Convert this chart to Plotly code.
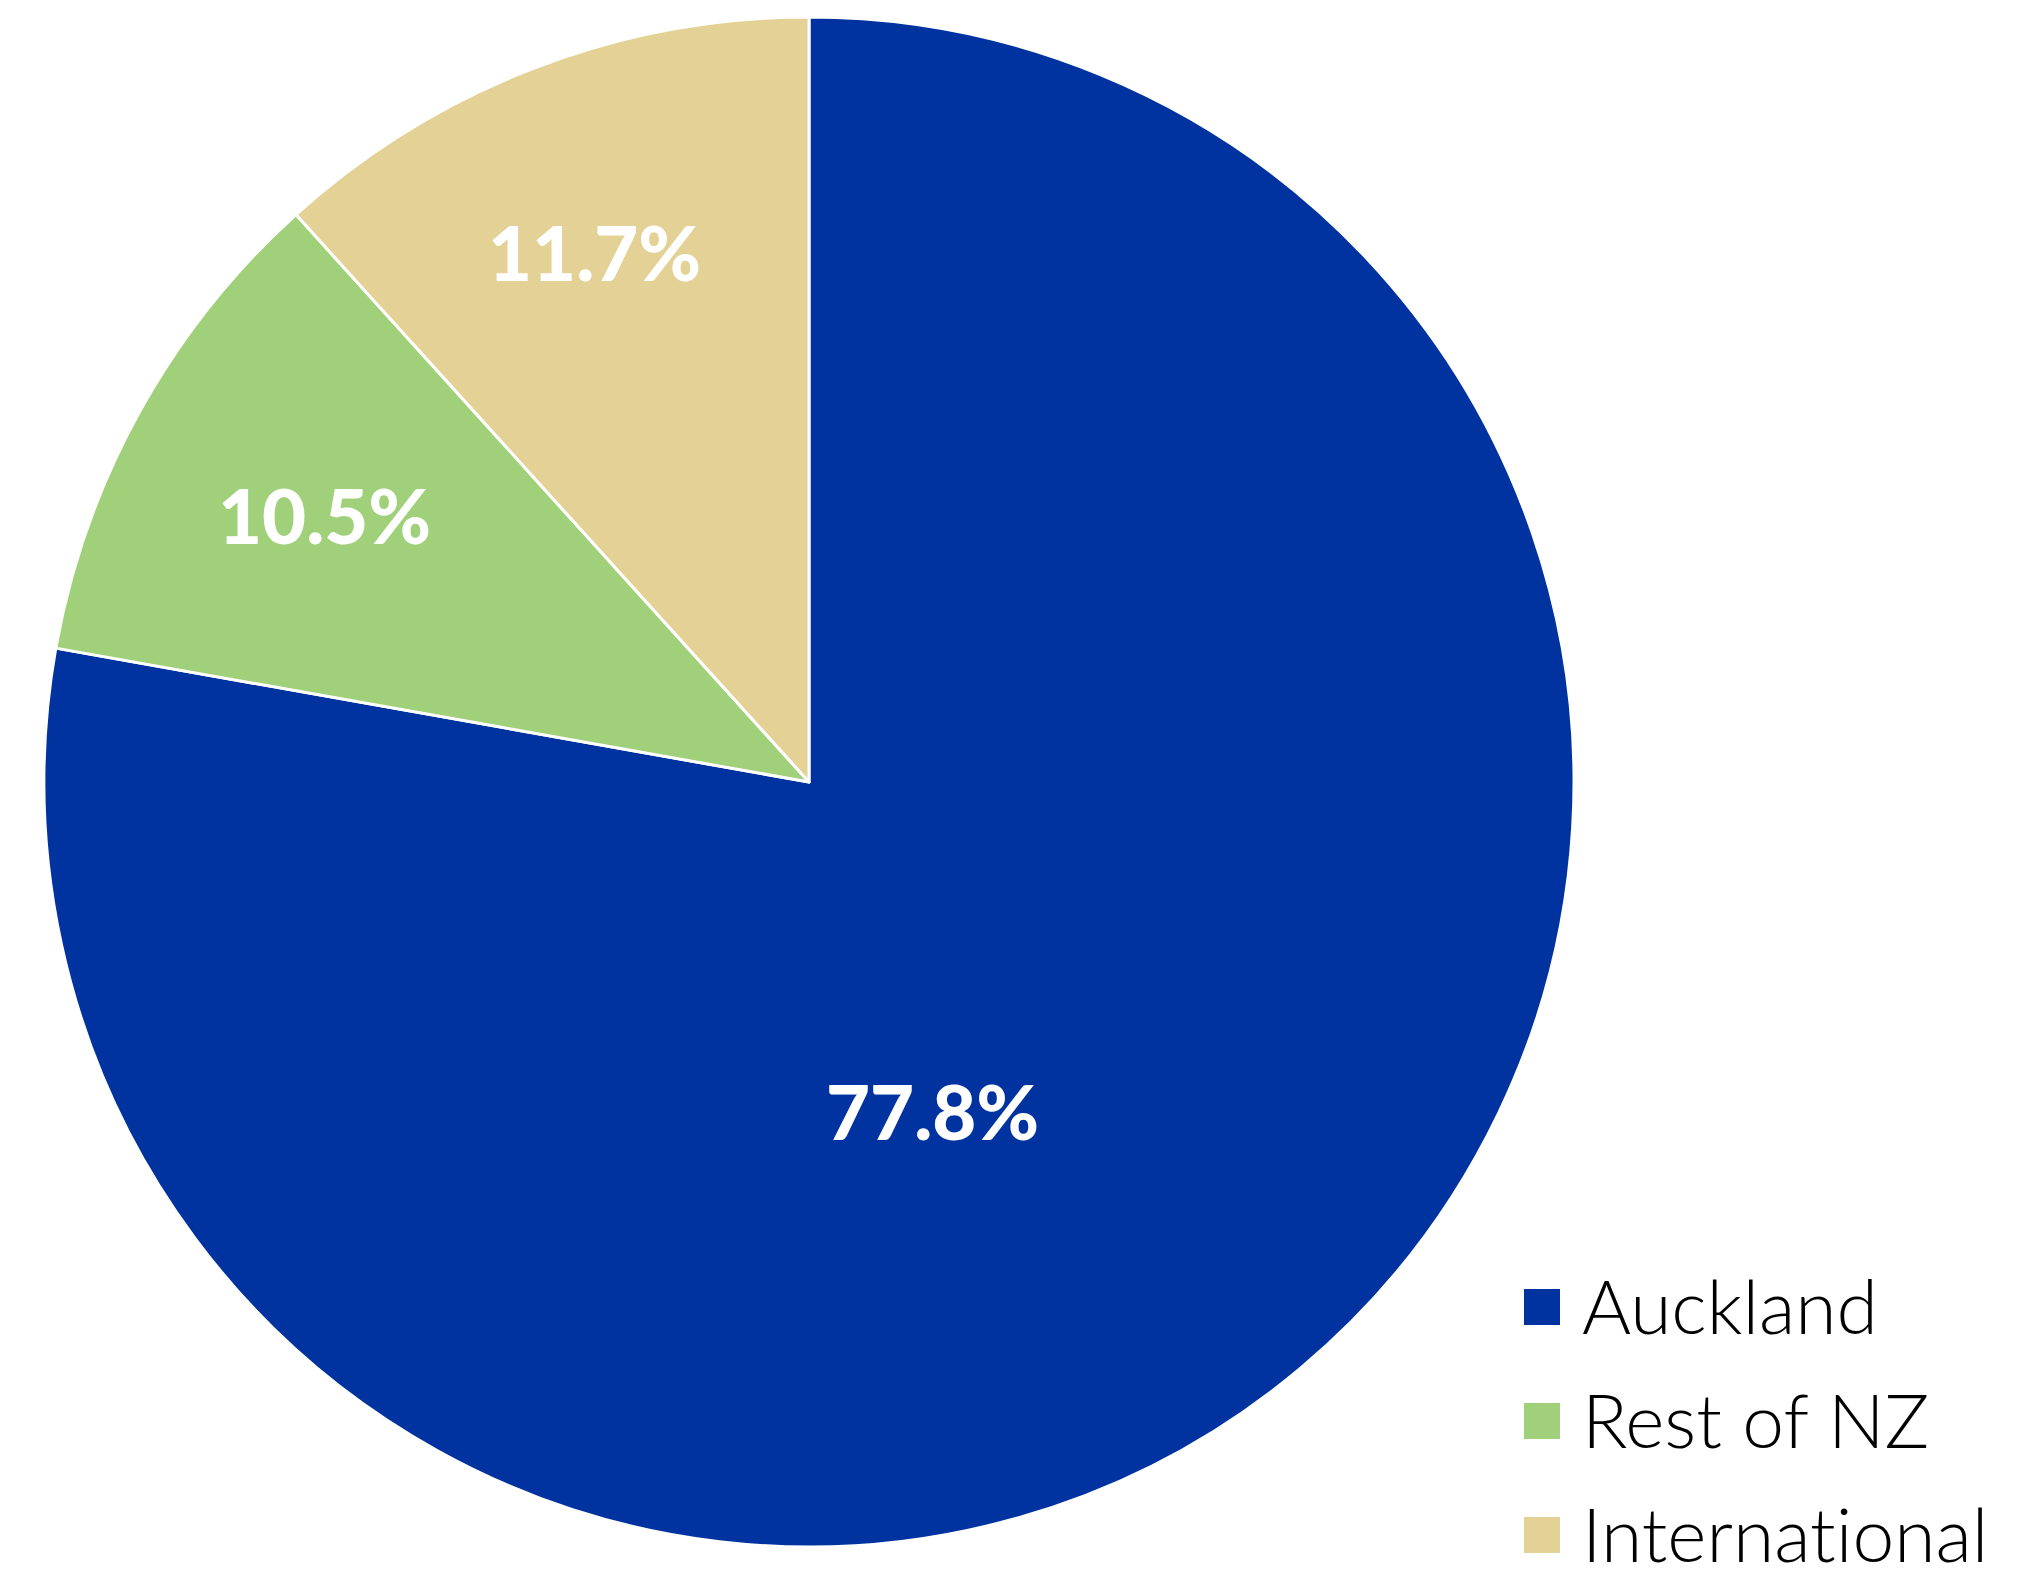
import plotly.graph_objects as go

categories = ["Auckland", "Rest of NZ", "International"]
values = [77.8, 10.5, 11.7]
colors = ["#0033A0", "#A0D17A", "#E4D196"]
label_texts = ["77.8%", "10.5%", "11.7%"]
legend_texts = ["Auckland", "Rest of NZ", "Internat\u200cional"]

W, H = 2040, 1569
OFF = 8  # page body margin
cx, cy, R = 809 - OFF, 782 - OFF, 765

fig = go.Figure()
fig.add_trace(go.Pie(
    labels=categories,
    values=values,
    sort=False,
    direction="clockwise",
    rotation=0,
    marker=dict(colors=colors, line=dict(color="white", width=3)),
    textinfo="none",
    hoverinfo="label+percent",
    showlegend=False,
    domain=dict(x=[(cx - R) / W, (cx + R) / W], y=[(H - cy - R) / H, (H - cy + R) / H]),
))

# data labels (placed as in the reference, relative to pie centre, in units of radius)
label_pos = [(0.162, 0.429), (-0.633, -0.350), (-0.280, -0.694)]
for txt, (dx, dy) in zip(label_texts, label_pos):
    fig.add_annotation(
        x=(cx + dx * R) / W, y=1 - (cy + dy * R) / H,
        xref="paper", yref="paper", showarrow=False,
        text=txt, xanchor="center", yanchor="middle",
        font=dict(family="Lato", size=76, color="white", weight=900),
    )

# legend
leg_x0, leg_y0, leg_dy, sq = 1524 - OFF, 1305 - OFF, 114, 36
for i, (cat, col) in enumerate(zip(legend_texts, colors)):
    yc = leg_y0 + i * leg_dy
    fig.add_shape(
        type="rect", xref="paper", yref="paper",
        x0=leg_x0 / W, x1=(leg_x0 + sq) / W,
        y0=1 - (yc + sq / 2 + 2) / H, y1=1 - (yc - sq / 2 + 2) / H,
        fillcolor=col, line=dict(width=0),
    )
    fig.add_annotation(
        x=(leg_x0 + sq + 20) / W, y=1 - yc / H,
        xref="paper", yref="paper", showarrow=False,
        text=cat, xanchor="left", yanchor="middle",
        font=dict(family="Lato", size=75, color="black", weight=300),
    )

fig.update_layout(
    width=W, height=H,
    margin=dict(l=0, r=0, t=0, b=0),
    paper_bgcolor="white", plot_bgcolor="white",
)

fig.write_html("out.html")
